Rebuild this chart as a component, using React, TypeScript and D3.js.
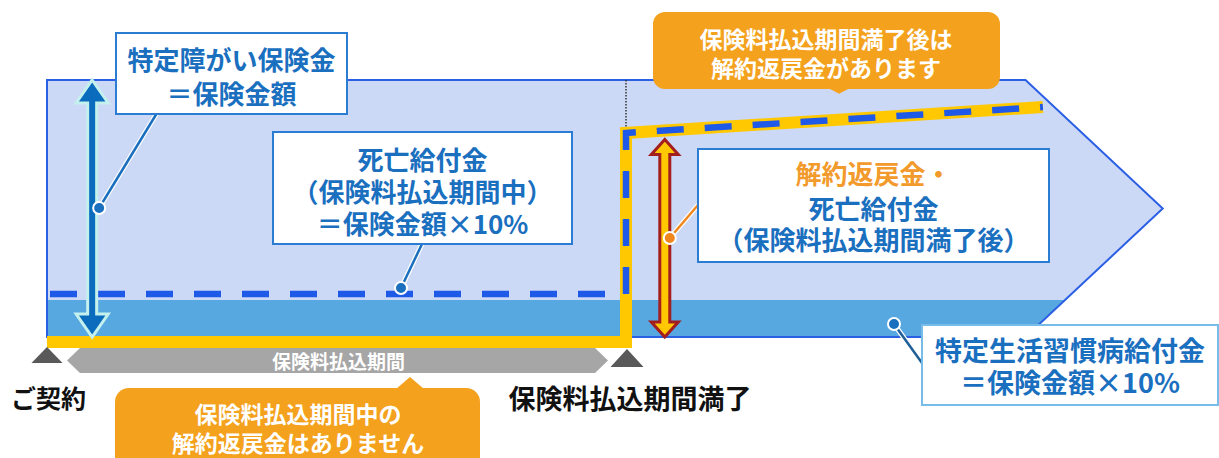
import React from "react";
import * as d3 from "d3";

const W = 1219;
const H = 458;

// ---- time axis (0 = ご契約, 1 = 保険料払込期間満了) ----
const milestoneLabels = ["ご契約", "保険料払込期間満了"];
const milestoneTimes = [0, 1];
const periodLabel = "保険料払込期間";
const coverageEndTime = 1.69;
const arrowTipTime = 1.927;

// ---- amounts relative to 保険金額 (= 1) ----
const sumInsured = 1;
const illnessBenefitLevel = 0.144;
const surrenderTimes = [0, 1, 1, 1.72];
const surrenderValues = [0, 0, 0.794, 0.895];
const deathTimes = [0, 1, 1, 1.72];
const deathValues = [0.167, 0.167, 0.794, 0.895];
const sumArrowTime = 0.078;
const afterArrowTime = 1.067;

// ---- labels ----
const sumLabel = ["特定障がい保険金", "＝保険金額"];
const deathDuringLabel = ["死亡給付金", "（保険料払込期間中）", "＝保険金額×10%"];
const afterLabel = ["解約返戻金・", "死亡給付金", "（保険料払込期間満了後）"];
const illnessLabel = ["特定生活習慣病給付金", "＝保険金額×10%"];
const calloutAfter = ["保険料払込期間満了後は", "解約返戻金があります"];
const calloutDuring = ["保険料払込期間中の", "解約返戻金はありません"];

const FONT = "'Noto Sans CJK JP', 'Noto Sans', sans-serif";
const BLUE_TEXT = "#1a6fbf";
const ORANGE = "#f4a11d";

const x = d3.scaleLinear().domain([0, 1]).range([47, 626]);
const y = d3.scaleLinear().domain([0, 1]).range([337, 80]);

function TextLines(props: {
  lines: string[];
  cx: number;
  ys: number[];
  size: number;
  fill: string | string[];
  anchor?: string;
}) {
  const { lines, cx, ys, size, fill, anchor = "middle" } = props;
  return (
    <g>
      {lines.map((t, i) => (
        <text
          key={i}
          x={cx}
          y={ys[i]}
          textAnchor={anchor}
          dominantBaseline="central"
          fontFamily={FONT}
          fontWeight={700}
          fontSize={size}
          fill={Array.isArray(fill) ? fill[i] : fill}
        >
          {t}
        </text>
      ))}
    </g>
  );
}

function doubleArrow(cx: number, top: number, bottom: number, headH: number, headW: number, shaftW: number) {
  const p = d3.path();
  p.moveTo(cx, top);
  p.lineTo(cx + headW, top + headH);
  p.lineTo(cx + shaftW, top + headH);
  p.lineTo(cx + shaftW, bottom - headH);
  p.lineTo(cx + headW, bottom - headH);
  p.lineTo(cx, bottom);
  p.lineTo(cx - headW, bottom - headH);
  p.lineTo(cx - shaftW, bottom - headH);
  p.lineTo(cx - shaftW, top + headH);
  p.lineTo(cx - headW, top + headH);
  p.closePath();
  return p.toString();
}

function Leader(props: { x1: number; y1: number; x2: number; y2: number; color: string; dotFill: string }) {
  const { x1, y1, x2, y2, color, dotFill } = props;
  return (
    <g>
      <line x1={x1} y1={y1} x2={x2} y2={y2} stroke="#fff" strokeWidth={5} />
      <line x1={x1} y1={y1} x2={x2} y2={y2} stroke={color} strokeWidth={2.5} />
      <circle cx={x1} cy={y1} r={6} fill={dotFill} stroke="#fff" strokeWidth={2} />
    </g>
  );
}

export default function App() {
  const xEnd = x(coverageEndTime);
  const xTip = x(arrowTipTime);
  const yMid = y(sumInsured / 2);

  const pentagon = d3.line()([
    [x(0), y(sumInsured)],
    [xEnd, y(sumInsured)],
    [xTip, yMid],
    [xEnd, y(0)],
    [x(0), y(0)],
  ]) + "Z";

  const bandRightX = xEnd + (xTip - xEnd) * (illnessBenefitLevel / (sumInsured / 2));
  const band = d3.line()([
    [x(0), y(illnessBenefitLevel)],
    [bandRightX, y(illnessBenefitLevel)],
    [xEnd, y(0)],
    [x(0), y(0)],
  ]) + "Z";

  const yellowLine = d3
    .line<number>()
    .x((_, i) => x(surrenderTimes[i]))
    .y((v) => (v === 0 ? y(v) + 5 : y(v)))(surrenderValues) as string;

  const deathLine = d3
    .line<number>()
    .x((_, i) => x(deathTimes[i]))
    .y((v) => y(v))(deathValues) as string;

  // surrender value at a time on the sloped part
  const slope = d3.scaleLinear().domain([surrenderTimes[2], surrenderTimes[3]]).range([surrenderValues[2], surrenderValues[3]]);

  const sumArrowX = x(sumArrowTime);
  const afterArrowX = x(afterArrowTime);
  const afterArrowTop = y(slope(afterArrowTime)) + 9;

  // gray period bar
  const gL = x(0) + 20;
  const gR = x(1) - 18;
  const gT = 348;
  const gB = 373;
  const gM = (gT + gB) / 2;
  const grayBar = d3.line()([
    [gL, gM],
    [gL + 13, gT],
    [gR - 13, gT],
    [gR, gM],
    [gR - 13, gB],
    [gL + 13, gB],
  ]) + "Z";

  // orange callouts
  const topPointerX = x(1.368);
  const topPointerY = y(slope(1.368)) - 26;
  const botPointerX = 410;

  return (
    <div style={{ position: "absolute", left: 0, top: 0 }}>
      <svg width={W} height={H} style={{ display: "block" }}>
        <rect width={W} height={H} fill="#fff" />
        {/* body */}
        <path d={pentagon} fill="#ccd9f6" />
        <path d={band} fill="#57a8e0" />
        <path d={pentagon} fill="none" stroke="#2b5fe4" strokeWidth={2} />

        {/* dotted vertical at payment end */}
        <line
          x1={x(1)}
          x2={x(1)}
          y1={y(sumInsured)}
          y2={y(surrenderValues[2]) - 6}
          stroke="#333"
          strokeWidth={1.5}
          strokeDasharray="1.5 1.5"
        />

        {/* surrender value (yellow) + death benefit (blue dashed) */}
        <path d={yellowLine} fill="none" stroke="#ffc800" strokeWidth={12} strokeLinejoin="miter" />
        <path
          d={deathLine}
          fill="none"
          stroke="#1f59e8"
          strokeWidth={6.5}
          strokeDasharray="27 21"
          strokeDashoffset={-3}
        />

        {/* sum insured arrow */}
        <path
          d={doubleArrow(sumArrowX, y(sumInsured), y(0), 23, 16, 4.5)}
          fill="#0b6bbd"
          stroke="#c4f1ee"
          strokeWidth={3}
          strokeLinejoin="miter"
        />
        {/* after-payment arrow */}
        <path
          d={doubleArrow(afterArrowX, afterArrowTop, y(0), 15, 13.5, 5)}
          fill="#ffc800"
          stroke="#a31e1e"
          strokeWidth={3}
        />

        {/* box 1 */}
        <Leader x1={sumArrowX + 7} y1={208} x2={157} y2={113} color="#1a6fbf" dotFill="#1a6fbf" />
        <rect x={116} y={33} width={231} height={81} fill="#fff" stroke="#2a7dd3" strokeWidth={2} />
        <TextLines lines={sumLabel} cx={231.5} ys={[58, 92]} size={26} fill={BLUE_TEXT} />

        {/* box 2 */}
        <Leader x1={401} y1={y(deathValues[0]) - 6} x2={422} y2={244} color="#1a6fbf" dotFill="#1a6fbf" />
        <rect x={273} y={132} width={299} height={112} fill="#fff" stroke="#2a7dd3" strokeWidth={2} />
        <TextLines lines={deathDuringLabel} cx={422.5} ys={[158, 190, 222]} size={26} fill={BLUE_TEXT} />

        {/* box 3 */}
        <Leader x1={afterArrowX + 5} y1={238} x2={698} y2={205} color="#f0871c" dotFill="#f0871c" />
        <rect x={698} y={149} width={351} height={113} fill="#fff" stroke="#2a7dd3" strokeWidth={2} />
        <TextLines
          lines={afterLabel}
          cx={873.5}
          ys={[172, 207, 238]}
          size={26}
          fill={["#f39a2c", BLUE_TEXT, BLUE_TEXT]}
        />

        {/* box 4 */}
        <Leader x1={894} y1={324} x2={922} y2={363} color="#1f5f98" dotFill="#1a6fbf" />
        <rect x={922} y={325} width={296} height={80} fill="#fff" stroke="#78bde9" strokeWidth={2} />
        <TextLines lines={illnessLabel} cx={1070} ys={[349, 381]} size={27} fill={BLUE_TEXT} />

        {/* top orange callout */}
        <rect x={653} y={12} width={347} height={77} rx={12} fill={ORANGE} />
        <path
          d={`M${topPointerX - 11},88 L${topPointerX},${topPointerY} L${topPointerX + 11},88 Z`}
          fill={ORANGE}
        />
        <TextLines lines={calloutAfter} cx={826} ys={[38, 67]} size={23} fill="#fff" />

        {/* gray period bar */}
        <path d={grayBar} fill="#a6a6a6" />
        <text
          x={(gL + gR) / 2 + 1}
          y={gM}
          textAnchor="middle"
          dominantBaseline="central"
          fontFamily={FONT}
          fontWeight={700}
          fontSize={19}
          fill="#fff"
        >
          {periodLabel}
        </text>

        {/* milestone triangles + labels */}
        {milestoneTimes.map((t, i) => {
          const cx = x(t) + (i === 0 ? 0 : 1);
          const top = i === 0 ? 347 : 349;
          const bot = i === 0 ? 363 : 367;
          const hw = i === 0 ? 15.5 : 16.5;
          return (
            <path key={i} d={`M${cx},${top} L${cx + hw},${bot} L${cx - hw},${bot} Z`} fill="#595959" />
          );
        })}
        <TextLines lines={[milestoneLabels[0]]} cx={11} ys={[397]} size={25} fill="#111" anchor="start" />
        <TextLines lines={[milestoneLabels[1]]} cx={630} ys={[397]} size={27} fill="#111" />

        {/* bottom orange callout */}
        <rect x={115} y={388} width={365} height={90} rx={14} fill={ORANGE} />
        <path d={`M${botPointerX - 14},389 L${botPointerX},377 L${botPointerX + 14},389 Z`} fill={ORANGE} />
        <TextLines lines={calloutDuring} cx={298} ys={[413, 442]} size={23} fill="#fff" />
      </svg>
    </div>
  );
}
